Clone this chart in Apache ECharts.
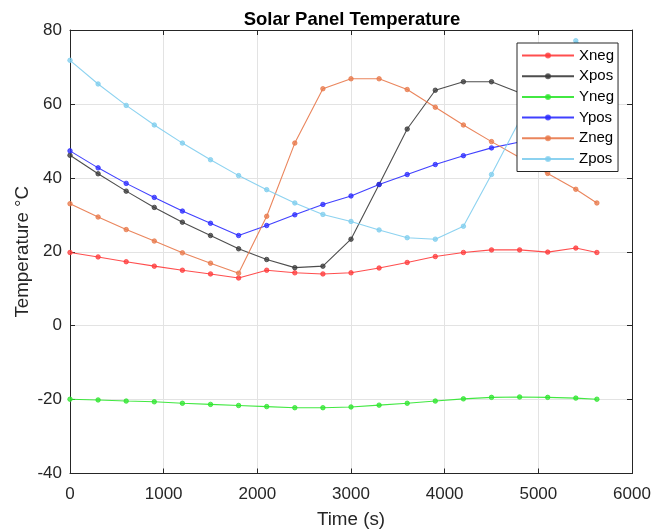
<!DOCTYPE html>
<html>
<head>
<meta charset="utf-8">
<script src="https://cdn.jsdelivr.net/npm/echarts@6/dist/echarts.min.js"></script>
<style>
  html, body { margin: 0; padding: 0; background: #fff; }
  #chart { width: 652px; height: 532px; }
</style>
</head>
<body>
<div id="chart"></div>
<script>
// Sample times (s)
const times = [0, 300, 600, 900, 1200, 1500, 1800, 2100, 2400, 2700, 3000, 3300,
               3600, 3900, 4200, 4500, 4800, 5100, 5400, 5625];

// Panel temperatures (°C)
const xneg = [19.8, 18.6, 17.3, 16.1, 15.0, 14.0, 12.9, 15.0, 14.3, 14.0, 14.3, 15.6,
              17.1, 18.7, 19.8, 20.5, 20.5, 19.9, 21.0, 19.8];
const xpos = [46.1, 41.1, 36.4, 32.0, 28.0, 24.4, 20.8, 17.9, 15.7, 16.1, 23.4, 38.2,
              53.2, 63.7, 66.0, 66.0, 63.0, 57.5, 52.5, 48.5];
const yneg = [-19.9, -20.1, -20.4, -20.6, -21.0, -21.3, -21.6, -21.9, -22.2, -22.2, -22.0, -21.5,
              -21.0, -20.4, -19.8, -19.4, -19.3, -19.4, -19.6, -19.9];
const ypos = [47.3, 42.7, 38.5, 34.7, 31.0, 27.7, 24.4, 27.1, 30.0, 32.8, 35.1, 38.2,
              40.9, 43.6, 46.0, 48.1, 49.7, 51.0, 52.2, 53.0];
const zneg = [33.0, 29.4, 26.0, 22.9, 19.7, 16.9, 14.2, 29.6, 49.4, 64.1, 66.8, 66.8,
              63.9, 59.1, 54.3, 49.8, 45.5, 41.2, 36.9, 33.2];
const zpos = [71.8, 65.4, 59.6, 54.3, 49.4, 44.9, 40.6, 36.8, 33.2, 30.1, 28.2, 25.9,
              23.8, 23.4, 26.9, 40.9, 55.5, 66.5, 77.1, 72.0];

// Axis ticks
const xTicks = [0, 1000, 2000, 3000, 4000, 5000, 6000];
const yTicks = [-40, -20, 0, 20, 40, 60, 80];

const seriesDefs = [
  { name: 'Xneg', data: xneg, color: '#ff3b3b' },
  { name: 'Xpos', data: xpos, color: '#3a3a3a' },
  { name: 'Yneg', data: yneg, color: '#2ee62e' },
  { name: 'Ypos', data: ypos, color: '#2b2bff' },
  { name: 'Zneg', data: zneg, color: '#e8784a' },
  { name: 'Zpos', data: zpos, color: '#7fcdee' }
];

const FONT = 'Liberation Sans, Arial, Helvetica, sans-serif';
const AXIS_COLOR = '#262626';

const xMin = xTicks[0], xMax = xTicks[xTicks.length - 1];
const yMin = yTicks[0], yMax = yTicks[yTicks.length - 1];
const xStep = xTicks[1] - xTicks[0];
const yStep = yTicks[1] - yTicks[0];

const chart = echarts.init(document.getElementById('chart'), null, { renderer: 'canvas' });

const plainNumber = v => String(v);

const mainAxisCommon = {
  type: 'value',
  axisLine: { show: true, onZero: false, lineStyle: { color: AXIS_COLOR, width: 1 } },
  axisTick: { show: true, inside: true, length: 5, lineStyle: { color: AXIS_COLOR } },
  splitLine: { show: true, lineStyle: { color: '#e3e3e3', width: 1 } },
  axisLabel: { color: AXIS_COLOR, fontFamily: FONT, fontSize: 17, formatter: plainNumber },
  nameTextStyle: { color: AXIS_COLOR, fontFamily: FONT, fontSize: 18.8 }
};

const mirrorAxisCommon = {
  type: 'value',
  axisLine: { show: true, onZero: false, lineStyle: { color: AXIS_COLOR, width: 1 } },
  axisTick: { show: true, inside: true, length: 5, lineStyle: { color: AXIS_COLOR } },
  splitLine: { show: false },
  axisLabel: { show: false }
};

chart.setOption({
  animation: false,
  backgroundColor: '#ffffff',
  title: {
    text: 'Solar Panel Temperature',
    left: 347, top: 5, textAlign: 'center',
    textStyle: { fontFamily: FONT, fontSize: 18.5, fontWeight: 'bold', color: '#000' }
  },
  grid: {
    left: 70, right: 20, top: 30, bottom: 58.5,
    containLabel: false,
    outerBoundsMode: 'none'
  },
  legend: {
    orient: 'vertical',
    left: 517, top: 43,
    padding: [5, 4, 5, 4],
    itemGap: 5.7,
    itemWidth: 52,
    itemHeight: 5,
    backgroundColor: '#ffffff',
    borderColor: AXIS_COLOR,
    borderWidth: 1,
    textStyle: { fontFamily: FONT, fontSize: 15, color: '#000', lineHeight: 14 },
    data: seriesDefs.map(s => s.name)
  },
  xAxis: [
    Object.assign({}, mainAxisCommon, {
      position: 'bottom', min: xMin, max: xMax, interval: xStep,
      name: 'Time (s)', nameLocation: 'middle', nameGap: 37,
      axisLabel: Object.assign({}, mainAxisCommon.axisLabel, { margin: 12 })
    }),
    Object.assign({}, mirrorAxisCommon, {
      position: 'top', min: xMin, max: xMax, interval: xStep
    })
  ],
  yAxis: [
    Object.assign({}, mainAxisCommon, {
      position: 'left', min: yMin, max: yMax, interval: yStep,
      name: 'Temperature °C', nameLocation: 'middle', nameGap: 38,
      nameMoveOverlap: false,
      axisLabel: Object.assign({}, mainAxisCommon.axisLabel, { margin: 8 })
    }),
    Object.assign({}, mirrorAxisCommon, {
      position: 'right', min: yMin, max: yMax, interval: yStep
    })
  ],
  series: seriesDefs.map(s => ({
    name: s.name,
    type: 'line',
    xAxisIndex: 0,
    yAxisIndex: 0,
    data: times.map((t, i) => [t, s.data[i]]),
    symbol: 'circle',
    symbolSize: 4.5,
    showSymbol: true,
    clip: true,
    color: s.color,
    lineStyle: { color: s.color, width: 1.1, opacity: 0.9 },
    itemStyle: { color: s.color, borderColor: s.color, borderWidth: 1, opacity: 0.75 },
    emphasis: { disabled: true }
  }))
});
</script>
</body>
</html>
